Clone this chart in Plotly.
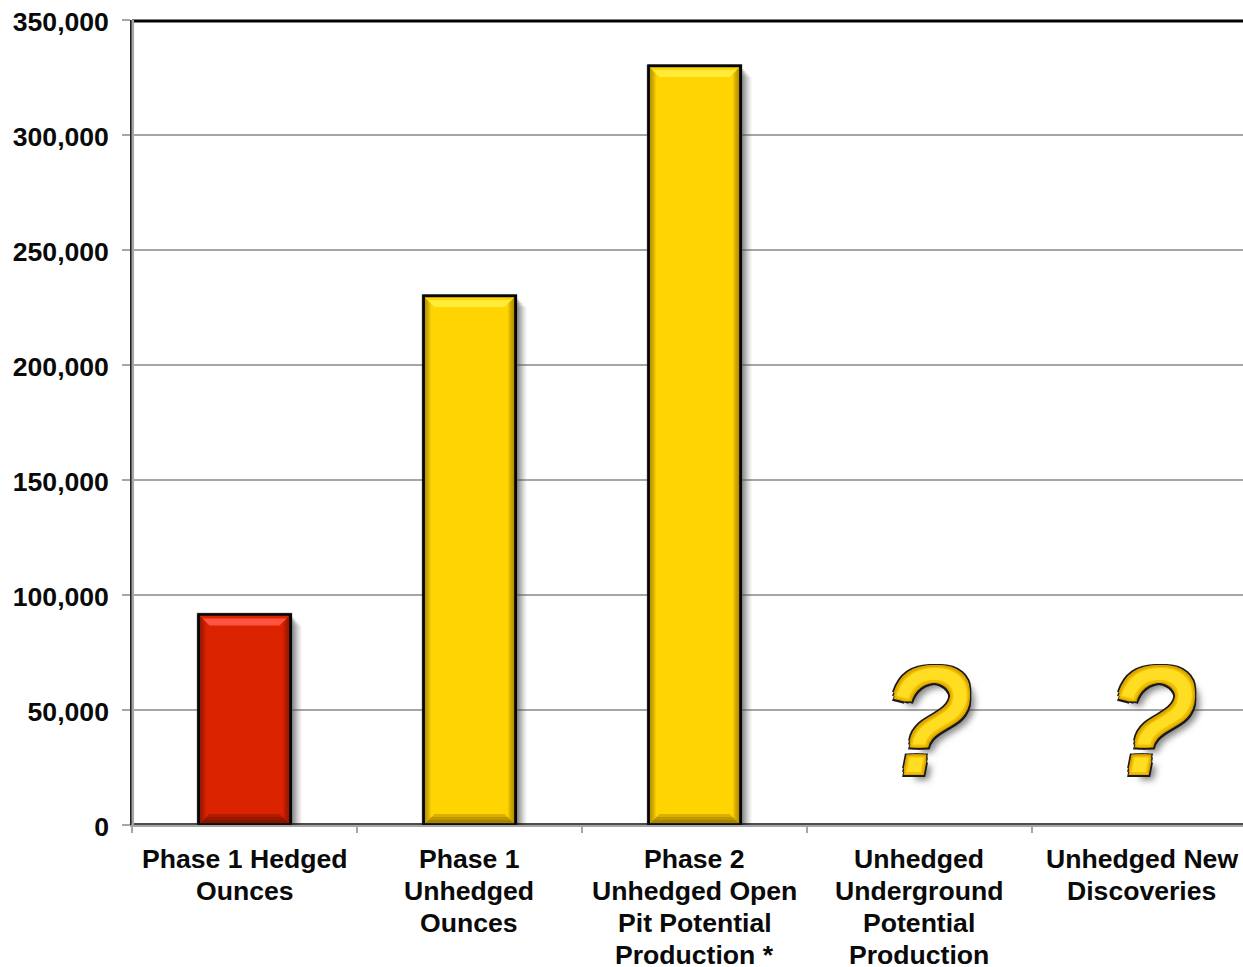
import plotly.graph_objects as go

# Chart data
category_lines = [
    ["Phase 1 Hedged", "Ounces"],
    ["Phase 1", "Unhedged", "Ounces"],
    ["Phase 2", "Unhedged Open", "Pit Potential", "Production *"],
    ["Unhedged", "Underground", "Potential", "Production"],
    ["Unhedged New", "Discoveries"],
]
categories = [" ".join(lines) for lines in category_lines]
label_nudge = [0, -0.5, 0, -1, -3]
ounces = [91500, 230000, 330000, None, None]
bar_colors = ["#DB2300", "#FFD400", "#FFD400", "#FFD400", "#FFD400"]
bevel_light = ["#FF5A45", "#FFEE40", "#FFEE40", "#FFEE40", "#FFEE40"]
bevel_dark = ["#5A0E00", "#7A5C00", "#7A5C00", "#7A5C00", "#7A5C00"]
unknown_positions = [3, 4]
unknown_heights = [50000, 50000]
y_ticks = [0, 50000, 100000, 150000, 200000, 250000, 300000, 350000]
y_labels = ["0", "50,000", "100,000", "150,000", "200,000", "250,000", "300,000", "350,000"]

WIDTH, HEIGHT = 1243, 967
M_LEFT, M_TOP, M_BOTTOM = 132, 20, 142
Y_MAX = 350000
PLOT_W = WIDTH - M_LEFT
PLOT_H = HEIGHT - M_TOP - M_BOTTOM
X_UNIT = 225.0                 # pixels per category
Y_UNIT = PLOT_H / Y_MAX        # pixels per ounce
BAR_WIDTH = 92 / X_UNIT
X_END = -0.5 + PLOT_W / X_UNIT

FONT = "Liberation Sans, Arial, sans-serif"
TEXT_COLOR = "#0a0a0a"
AXIS_GREY = "#a6a6a6"
LABEL_SIZE = 26.6
LINE_STEP = 32


def px_x(p):
    return p / X_UNIT


def px_y(p):
    return p / Y_UNIT


def polygon(points):
    return "M " + " L ".join(f"{x},{y}" for x, y in points) + " Z"


def data_path(points, color, opacity=1.0):
    return dict(type="path", layer="above", xref="x", yref="y",
                path=polygon(points), line=dict(width=0),
                fillcolor=color, opacity=opacity)


shapes = []

# Drop shadow and chiselled edges for each bar, all derived from its value
for i, v in enumerate(ounces):
    if v is None:
        continue
    x0, x1 = i - BAR_WIDTH / 2, i + BAR_WIDTH / 2
    for off, alpha in ((11, 0.08), (9, 0.12), (7, 0.16), (5, 0.22), (3, 0.30)):
        shapes.append(dict(type="rect", layer="between", xref="x", yref="y",
                           x0=x1 - px_x(2), x1=x1 + px_x(off),
                           y0=0, y1=v - px_y(off),
                           line=dict(width=0), fillcolor=f"rgba(70,70,70,{alpha})"))
    # faint halo just outside the outline
    shapes.append(dict(type="rect", layer="between", xref="x", yref="y",
                       x0=x0 - px_x(2), x1=x1 + px_x(2), y0=0, y1=v + px_y(2),
                       line=dict(width=0), fillcolor="rgba(120,120,120,0.45)"))
    # side bevels fade inward from the outline
    for w in (7, 5, 3):
        shapes.append(data_path([(x0, v), (x0 + px_x(w), v - px_y(w)),
                                 (x0 + px_x(w), px_y(w)), (x0, 0)],
                                bevel_dark[i], 0.2))
        shapes.append(data_path([(x1, v), (x1 - px_x(w), v - px_y(w)),
                                 (x1 - px_x(w), px_y(w)), (x1, 0)],
                                bevel_dark[i], 0.22))
    # bottom bevel
    for h in (11, 8, 5):
        shapes.append(data_path([(x0, 0), (x1, 0), (x1 - px_x(h), px_y(h)), (x0 + px_x(h), px_y(h))],
                                bevel_dark[i], 0.3))
    # top bevel catches the light
    shapes.append(data_path([(x0, v), (x1, v), (x1 - px_x(11), v - px_y(11)), (x0 + px_x(11), v - px_y(11))],
                            bar_colors[i]))
    shapes.append(data_path([(x0 + px_x(4), v - px_y(4)), (x1 - px_x(4), v - px_y(4)),
                             (x1 - px_x(11), v - px_y(11)), (x0 + px_x(11), v - px_y(11))],
                            bevel_light[i], 0.9))
    # crisp outline redrawn over the bevels
    shapes.append(dict(type="rect", layer="above", xref="x", yref="y",
                       x0=x0, x1=x1, y0=0, y1=v,
                       line=dict(color="#060606", width=2.5)))

# Heavy rule along the top of the plot
shapes.append(dict(type="line", layer="above", xref="paper", yref="paper",
                   x0=0, x1=1, y0=1 - 1 / PLOT_H, y1=1 - 1 / PLOT_H,
                   line=dict(color="#000000", width=3)))
# Dark edge above the grey baseline
shapes.append(dict(type="line", layer="above", xref="paper", yref="paper",
                   x0=0, x1=1, y0=1 / PLOT_H, y1=1 / PLOT_H,
                   line=dict(color="#111111", width=1.5)))
# Grey inner edge beside the dark left axis line
shapes.append(dict(type="line", layer="above", xref="paper", yref="paper",
                   x0=0.8 / PLOT_W, x1=0.8 / PLOT_W, y0=0, y1=1,
                   line=dict(color=AXIS_GREY, width=2.5)))

fig = go.Figure()
fig.add_trace(go.Bar(
    x=categories,
    y=ounces,
    width=BAR_WIDTH,
    marker=dict(color=bar_colors, line=dict(color="#060606", width=2.5)),
    hoverinfo="skip",
))

# The two unquantified categories carry a large bevelled question mark
ring = ((-1, 0), (1, 0), (0, -1), (0, 1), (-1, -1), (1, -1), (-1, 1), (1, 1))
question_effect = ",".join(
    [f"{dx * 1.5}px {dy * 1.5}px 0 #F2C000" for dx, dy in ring]
    + [f"{dx * 3}px {dy * 3}px 0 #DDA600" for dx, dy in ring]
    + [f"{dx * 4.5}px {dy * 4.5}px 0 #1a1a1a" for dx, dy in ring]
    + ["8px 8px 6px rgba(60,60,60,0.6)"]
)
annotations = [
    dict(x=categories[p], y=h, xref="x", yref="y", text="<i>?</i>",
         showarrow=False, xanchor="center", yanchor="middle",
         xshift=6, yshift=-10,
         font=dict(family=FONT, size=148, color="#FFDD22", shadow=question_effect))
    for p, h in zip(unknown_positions, unknown_heights)
]

# Category names, one annotation per wrapped line for tight leading
for i, lines in enumerate(category_lines):
    for n, line in enumerate(lines):
        annotations.append(dict(
            x=categories[i], y=0, xref="x", yref="y",
            text=f"<b>{line}</b>", showarrow=False,
            xanchor="center", yanchor="middle",
            xshift=label_nudge[i],
            yshift=-(34 + n * LINE_STEP),
            font=dict(family=FONT, size=LABEL_SIZE, color=TEXT_COLOR),
        ))

fig.update_layout(
    width=WIDTH,
    height=HEIGHT,
    autosize=False,
    margin=dict(l=M_LEFT, r=0, t=M_TOP, b=M_BOTTOM, pad=0, autoexpand=False),
    paper_bgcolor="white",
    plot_bgcolor="white",
    showlegend=False,
    shapes=shapes,
    annotations=annotations,
    font=dict(family=FONT, color=TEXT_COLOR),
    xaxis=dict(
        type="category",
        range=[-0.5, X_END],
        tickson="boundaries",
        ticks="outside",
        ticklen=6,
        tickwidth=2,
        tickcolor=AXIS_GREY,
        showgrid=False,
        showline=True,
        linecolor=AXIS_GREY,
        linewidth=2,
        showticklabels=False,
        automargin=False,
    ),
    yaxis=dict(
        range=[0, Y_MAX],
        tickmode="array",
        tickvals=y_ticks,
        ticktext=y_labels,
        ticks="outside",
        ticklen=8,
        tickwidth=2,
        tickcolor=AXIS_GREY,
        showgrid=True,
        gridcolor=AXIS_GREY,
        gridwidth=2,
        zeroline=False,
        showline=True,
        linecolor="#222222",
        linewidth=1.5,
        tickfont=dict(family=FONT, size=LABEL_SIZE, color=TEXT_COLOR, weight="bold"),
        ticklabelstandoff=8,
        ticklabelshift=2,
        automargin=False,
    ),
    bargap=0,
)

fig.write_html("out.html", config=dict(displayModeBar=False))
